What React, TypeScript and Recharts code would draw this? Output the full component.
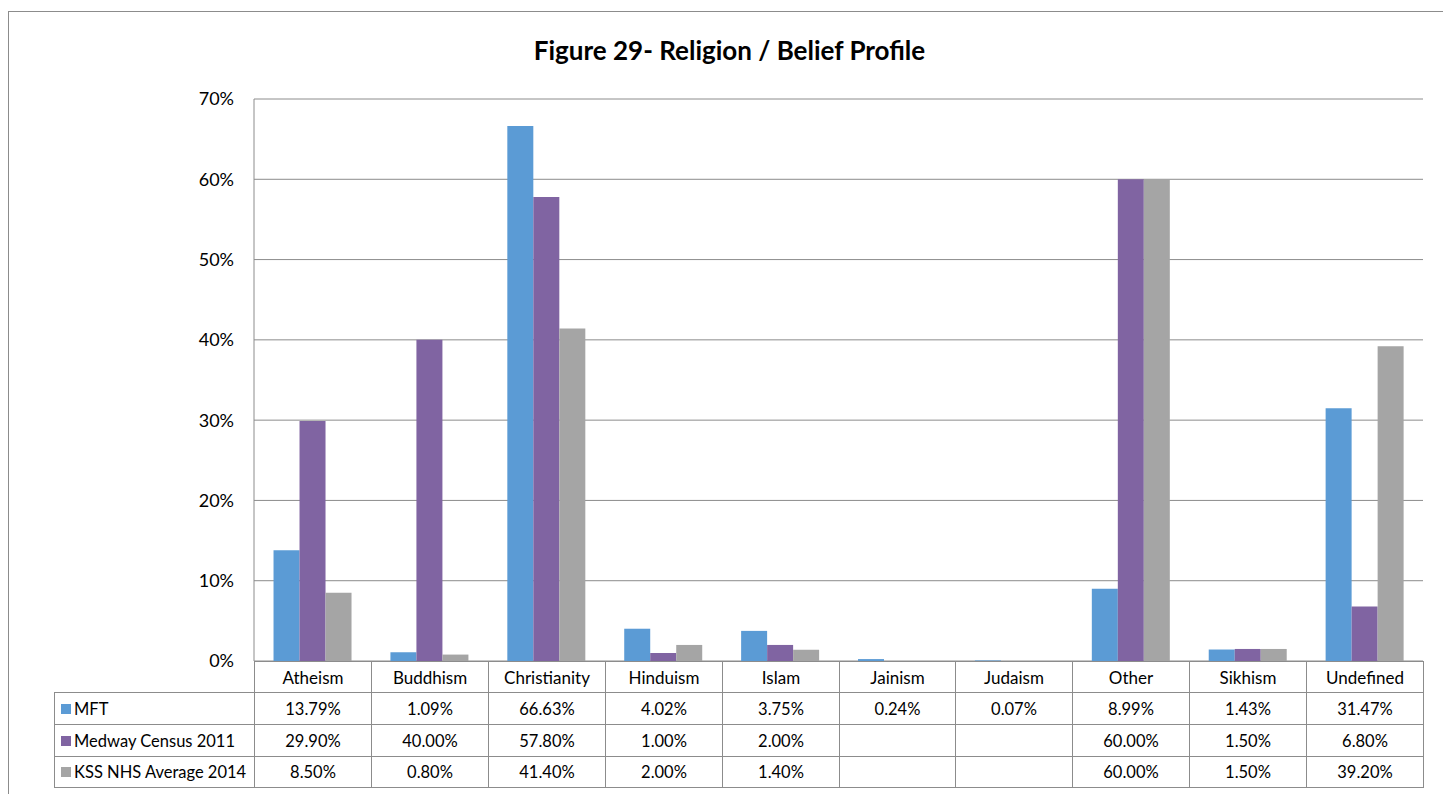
import { BarChart, Bar, XAxis, YAxis, CartesianGrid } from 'recharts';

const categories = ['Atheism', 'Buddhism', 'Christianity', 'Hinduism', 'Islam', 'Jainism', 'Judaism', 'Other', 'Sikhism', 'Undefined'];
const mft = [13.79, 1.09, 66.63, 4.02, 3.75, 0.24, 0.07, 8.99, 1.43, 31.47];
const medway = [29.9, 40.0, 57.8, 1.0, 2.0, null, null, 60.0, 1.5, 6.8];
const kss = [8.5, 0.8, 41.4, 2.0, 1.4, null, null, 60.0, 1.5, 39.2];
const yTicks = [0, 10, 20, 30, 40, 50, 60, 70];

const seriesList = [
    { key: 'mft', name: 'MFT', color: '#5B9BD5', values: mft },
    { key: 'medway', name: 'Medway Census 2011', color: '#8064A2', values: medway },
    { key: 'kss', name: 'KSS NHS Average 2014', color: '#A5A5A5', values: kss },
];

const data = categories.map((c, i) => ({ category: c, mft: mft[i], medway: medway[i], kss: kss[i] }));

const FONT = 'Lato, "Open Sans", sans-serif';
const LINE = '#8C8C8C';

const PLOT_LEFT = 254;
const PLOT_RIGHT = 1423;
const TABLE_LEFT = 54;
const colW = (PLOT_RIGHT - PLOT_LEFT) / categories.length;
const colX = (i: number) => Math.round(PLOT_LEFT + colW * i);
const rowY = [661, 692, 724, 756, 787];

function Cell({ x, y, w, h, borders = true, align = 'center', size = 16.5, children }: any) {
    return (
        <div
            style={{
                position: 'absolute',
                left: x,
                top: y,
                width: w + 1,
                height: h + 1,
                boxSizing: 'border-box',
                border: borders ? `1px solid ${LINE}` : 'none',
                display: 'flex',
                alignItems: 'center',
                justifyContent: align === 'left' ? 'flex-start' : 'center',
                paddingLeft: align === 'left' ? 6 : 0,
                fontFamily: FONT,
                fontSize: size,
                color: '#000',
                whiteSpace: 'nowrap',
            }}
        >
            {children}
        </div>
    );
}

const fmt = (v: number | null) => (v == null ? '' : `${v.toFixed(2)}%`);

export default function App() {
    return (
        <div style={{ position: 'relative', width: 1443, height: 794, overflow: 'hidden', background: '#fff' }}>
            <style>{'body{margin:0;overflow:hidden;}'}</style>
            <div
                style={{
                    position: 'absolute',
                    left: 8,
                    top: 11,
                    width: 1460,
                    height: 820,
                    border: `1px solid ${LINE}`,
                    boxSizing: 'border-box',
                }}
            />
            <div
                style={{
                    position: 'absolute',
                    left: 0,
                    top: 33,
                    width: 1443,
                    textAlign: 'center',
                    fontFamily: FONT,
                    fontWeight: 700,
                    fontSize: 26,
                    lineHeight: '34px',
                    color: '#000',
                    paddingLeft: 16,
                    boxSizing: 'border-box',
                }}
            >
                Figure 29- Religion / Belief Profile
            </div>
            <div style={{ position: 'absolute', left: 0, top: 0 }}>
                <BarChart
                    width={1443}
                    height={700}
                    data={data}
                    margin={{ top: 99, right: 1443 - PLOT_RIGHT, left: 0, bottom: 700 - 661 }}
                    barGap={0}
                    barCategoryGap="16.7%"
                >
                    <CartesianGrid vertical={false} stroke={LINE} strokeWidth={1} />
                    <XAxis dataKey="category" hide />
                    <YAxis
                        width={PLOT_LEFT}
                        domain={[0, 70]}
                        ticks={yTicks}
                        interval={0}
                        tickFormatter={(v: number) => `${v}%`}
                        axisLine={{ stroke: LINE }}
                        tickLine={false}
                        tickSize={0}
                        tickMargin={20}
                        tick={{ fill: '#000', fontSize: 18, fontFamily: FONT }}
                    />
                    {seriesList.map((s) => (
                        <Bar key={s.key} dataKey={s.key} name={s.name} fill={s.color} isAnimationActive={false} />
                    ))}
                </BarChart>
            </div>
            {categories.map((c, i) => (
                <Cell key={`h-${c}`} x={colX(i)} y={rowY[0]} w={colX(i + 1) - colX(i)} h={rowY[1] - rowY[0]} size={17}>
                    {c}
                </Cell>
            ))}
            {seriesList.map((s, r) => (
                <div key={s.key}>
                    <Cell x={TABLE_LEFT} y={rowY[r + 1]} w={PLOT_LEFT - TABLE_LEFT} h={rowY[r + 2] - rowY[r + 1]} align="left">
                        <span
                            style={{
                                display: 'inline-block',
                                width: 10,
                                height: 10,
                                background: s.color,
                                marginRight: 3,
                            }}
                        />
                        {s.name}
                    </Cell>
                    {s.values.map((v, i) => (
                        <Cell
                            key={`${s.key}-${i}`}
                            x={colX(i)}
                            y={rowY[r + 1]}
                            w={colX(i + 1) - colX(i)}
                            h={rowY[r + 2] - rowY[r + 1]}
                        >
                            {fmt(v)}
                        </Cell>
                    ))}
                </div>
            ))}
        </div>
    );
}
